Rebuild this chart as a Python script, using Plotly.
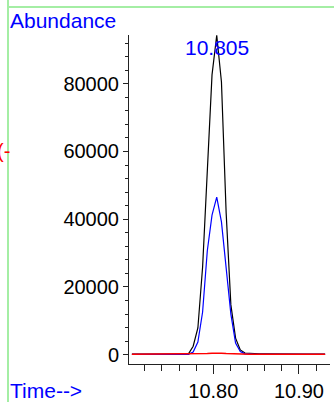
import plotly.graph_objects as go

# ---- data ----
times = [10.7050, 10.7105, 10.7160, 10.7215, 10.7270, 10.7325, 10.7380, 10.7435,
         10.7490, 10.7545, 10.7600, 10.7655, 10.7710, 10.7765, 10.7820, 10.7875,
         10.7930, 10.7985, 10.8040, 10.8095, 10.8150, 10.8205, 10.8260, 10.8315,
         10.8370, 10.8425, 10.8480, 10.8535, 10.8590, 10.8645, 10.8700, 10.8755,
         10.8810, 10.8865, 10.8920, 10.8975, 10.9030, 10.9085, 10.9140, 10.9195,
         10.9250, 10.9305]
tic = [150, 150, 150, 150, 150, 150, 150, 150,
       150, 150, 150, 160, 250, 2500, 7900, 25900,
       52400, 82600, 94300, 80500, 41800, 14700, 4900, 1400,
       500, 380, 330, 280, 250, 220, 200, 180,
       170, 160, 150, 150, 150, 150, 150, 150,
       150, 150]
ion1 = [100, 100, 100, 100, 100, 100, 100, 100,
        100, 100, 100, 100, 120, 800, 3750, 12600,
        30700, 41200, 46500, 39200, 25000, 12000, 3450, 900,
        250, 120, 100, 100, 100, 100, 100, 100,
        100, 100, 100, 100, 100, 100, 100, 100,
        100, 100]
ion2 = [150, 150, 150, 150, 150, 150, 150, 150,
        150, 150, 150, 150, 160, 200, 250, 300,
        350, 420, 500, 420, 330, 260, 200, 170,
        160, 150, 150, 150, 150, 150, 150, 150,
        150, 150, 150, 150, 150, 150, 150, 150,
        150, 150]
peak_label = "10.805"
peak_time = 10.804

x_range = [10.7016, 10.9362]
y_range = [-2745, 94375]

W, H = 334, 402
ML, MR, MT, MB = 129, 4, 35, 38
PW, PH = W - ML - MR, H - MT - MB

def px(x):
    return (x - ML) / PW

def py(y):
    return (H - MB - y) / PH

FONT = "Arial, Liberation Sans, sans-serif"

fig = go.Figure()
fig.add_trace(go.Scatter(x=times, y=tic, mode="lines",
                         line=dict(color="#000000", width=1.2), showlegend=False))
fig.add_trace(go.Scatter(x=times, y=ion1, mode="lines",
                         line=dict(color="#0000ff", width=1.2), showlegend=False))
fig.add_trace(go.Scatter(x=times, y=ion2, mode="lines",
                         line=dict(color="#ff0000", width=1.5), showlegend=False))

fig.update_layout(
    width=W, height=H,
    margin=dict(l=ML, r=MR, t=MT, b=MB, pad=0, autoexpand=False),
    paper_bgcolor="white", plot_bgcolor="white",
    font=dict(family=FONT, size=20, color="black"),
    showlegend=False,
)
fig.update_xaxes(
    range=x_range, showgrid=False, zeroline=False, automargin=False,
    showline=True, linecolor="#222", linewidth=1,
    ticks="outside", ticklen=9, tickcolor="#222", tickwidth=1,
    dtick=0.1, tick0=10.8, tickformat=".2f",
    minor=dict(dtick=0.02, tick0=10.8, ticks="outside", ticklen=6, tickcolor="#222"),
    tickfont=dict(size=20),
)
fig.update_yaxes(
    range=y_range, showgrid=False, zeroline=False, automargin=False,
    showline=True, linecolor="#222", linewidth=1,
    ticks="outside", ticklen=5, tickcolor="#222", tickwidth=1,
    dtick=20000, tick0=0, tickformat="d",
    minor=dict(dtick=4000, tick0=0, ticks="outside", ticklen=3, tickcolor="#222"),
    tickfont=dict(size=20),
)

green = "#a4eea4"
fig.add_shape(type="line", xref="paper", yref="paper",
              x0=px(8), x1=px(8), y0=py(0), y1=py(H), line=dict(color=green, width=2))
fig.add_shape(type="line", xref="paper", yref="paper",
              x0=px(8), x1=px(W), y0=py(7), y1=py(7), line=dict(color=green, width=2))

fig.add_annotation(text="Abundance", xref="paper", yref="paper", x=px(8), y=py(20),
                   xanchor="left", yanchor="middle", showarrow=False,
                   font=dict(color="#0000ff", size=21, family=FONT))
fig.add_annotation(text="Time-->", xref="paper", yref="paper", x=px(8), y=py(390),
                   xanchor="left", yanchor="middle", showarrow=False,
                   font=dict(color="#0000ff", size=21, family=FONT))
fig.add_annotation(text=peak_label, xref="x", yref="paper", x=peak_time, y=py(47),
                   xanchor="center", yanchor="middle", showarrow=False,
                   font=dict(color="#0000ff", size=21, family=FONT))
fig.add_annotation(text="(-", xref="paper", yref="paper", x=px(12), y=py(151),
                   xanchor="right", yanchor="middle", showarrow=False,
                   font=dict(color="#ff0000", size=20, family=FONT))

fig.write_html("out.html", post_script="document.body.style.margin='0';",
               config={"displayModeBar": False})
